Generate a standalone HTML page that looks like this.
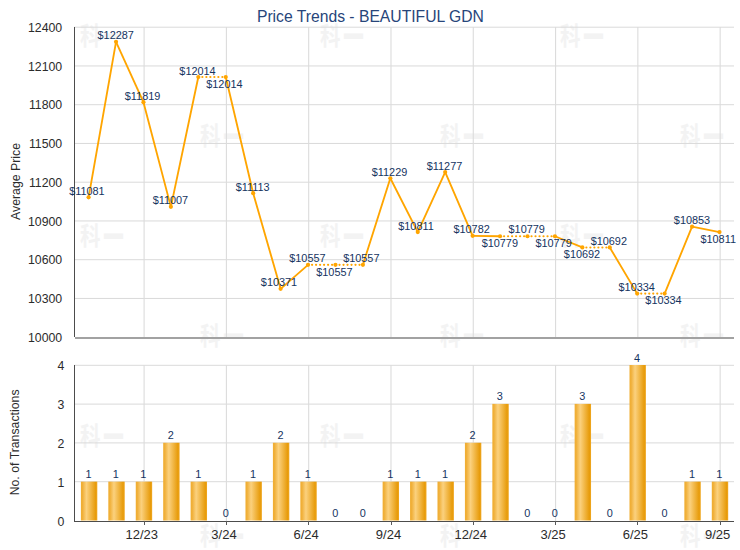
<!DOCTYPE html>
<html><head><meta charset="utf-8"><title>Price Trends - BEAUTIFUL GDN</title>
<style>
html,body{margin:0;padding:0;background:#fff;}
body{width:740px;height:550px;overflow:hidden;}
svg{display:block;font-family:"Liberation Sans","Noto Sans CJK SC",sans-serif;}
.ax{font-size:12.3px;fill:#2b2b2b;}
.xl{font-size:13px;fill:#2b2b2b;}
.dl{font-size:10.9px;fill:#15345f;}
.ttl{font-size:15.7px;fill:#27457a;}
.wm{font-size:20.5px;fill:#f3f3f3;font-weight:900;letter-spacing:1.5px;font-family:"Noto Sans CJK SC","WenQuanYi Zen Hei",sans-serif;}
</style></head><body>
<svg width="740" height="550" viewBox="0 0 740 550">
<defs>
<linearGradient id="bg" x1="0" y1="0" x2="1" y2="0">
<stop offset="0" stop-color="#f0ad30"/><stop offset="0.1" stop-color="#f0b03a"/><stop offset="0.34" stop-color="#fbd17e"/><stop offset="0.62" stop-color="#f1b644"/><stop offset="0.9" stop-color="#e79b0a"/><stop offset="1" stop-color="#f0a824"/>
</linearGradient>
</defs>
<rect width="740" height="550" fill="#fff"/>

<g class="wm">
<text font-weight="700" transform="translate(80,45.0) scale(1,1.22)">科</text><text transform="translate(103.2,49.6) scale(1,1.7)">一</text>
<text font-weight="700" transform="translate(320,45.0) scale(1,1.22)">科</text><text transform="translate(343.2,49.6) scale(1,1.7)">一</text>
<text font-weight="700" transform="translate(560,45.0) scale(1,1.22)">科</text><text transform="translate(583.2,49.6) scale(1,1.7)">一</text>
<text font-weight="700" transform="translate(200,145.0) scale(1,1.22)">科</text><text transform="translate(223.2,149.6) scale(1,1.7)">一</text>
<text font-weight="700" transform="translate(440,145.0) scale(1,1.22)">科</text><text transform="translate(463.2,149.6) scale(1,1.7)">一</text>
<text font-weight="700" transform="translate(680,145.0) scale(1,1.22)">科</text><text transform="translate(703.2,149.6) scale(1,1.7)">一</text>
<text font-weight="700" transform="translate(80,245.0) scale(1,1.22)">科</text><text transform="translate(103.2,249.6) scale(1,1.7)">一</text>
<text font-weight="700" transform="translate(320,245.0) scale(1,1.22)">科</text><text transform="translate(343.2,249.6) scale(1,1.7)">一</text>
<text font-weight="700" transform="translate(560,245.0) scale(1,1.22)">科</text><text transform="translate(583.2,249.6) scale(1,1.7)">一</text>
<text font-weight="700" transform="translate(200,345.0) scale(1,1.22)">科</text><text transform="translate(223.2,349.6) scale(1,1.7)">一</text>
<text font-weight="700" transform="translate(440,345.0) scale(1,1.22)">科</text><text transform="translate(463.2,349.6) scale(1,1.7)">一</text>
<text font-weight="700" transform="translate(680,345.0) scale(1,1.22)">科</text><text transform="translate(703.2,349.6) scale(1,1.7)">一</text>
<text font-weight="700" transform="translate(80,445.0) scale(1,1.22)">科</text><text transform="translate(103.2,449.6) scale(1,1.7)">一</text>
<text font-weight="700" transform="translate(320,445.0) scale(1,1.22)">科</text><text transform="translate(343.2,449.6) scale(1,1.7)">一</text>
<text font-weight="700" transform="translate(560,445.0) scale(1,1.22)">科</text><text transform="translate(583.2,449.6) scale(1,1.7)">一</text>
<text font-weight="700" transform="translate(200,545.0) scale(1,1.22)">科</text><text transform="translate(223.2,549.6) scale(1,1.7)">一</text>
<text font-weight="700" transform="translate(440,545.0) scale(1,1.22)">科</text><text transform="translate(463.2,549.6) scale(1,1.7)">一</text>
<text font-weight="700" transform="translate(680,545.0) scale(1,1.22)">科</text><text transform="translate(703.2,549.6) scale(1,1.7)">一</text>
</g>
<g fill="#dadada">
<rect x="74" y="26.70" width="660" height="1"/>
<rect x="74" y="65.45" width="660" height="1"/>
<rect x="74" y="104.20" width="660" height="1"/>
<rect x="74" y="142.95" width="660" height="1"/>
<rect x="74" y="181.70" width="660" height="1"/>
<rect x="74" y="220.45" width="660" height="1"/>
<rect x="74" y="259.20" width="660" height="1"/>
<rect x="74" y="297.95" width="660" height="1"/>
<rect x="74" y="364.80" width="660" height="1"/>
<rect x="74" y="403.60" width="660" height="1"/>
<rect x="74" y="442.40" width="660" height="1"/>
<rect x="74" y="481.20" width="660" height="1"/>
</g>
<g fill="#dcdcdc">
<rect x="143.56" y="27" width="1.1" height="310"/>
<rect x="143.56" y="365" width="1.1" height="156"/>
<rect x="225.85" y="27" width="1.1" height="310"/>
<rect x="225.85" y="365" width="1.1" height="156"/>
<rect x="308.14" y="27" width="1.1" height="310"/>
<rect x="308.14" y="365" width="1.1" height="156"/>
<rect x="390.43" y="27" width="1.1" height="310"/>
<rect x="390.43" y="365" width="1.1" height="156"/>
<rect x="472.72" y="27" width="1.1" height="310"/>
<rect x="472.72" y="365" width="1.1" height="156"/>
<rect x="555.01" y="27" width="1.1" height="310"/>
<rect x="555.01" y="365" width="1.1" height="156"/>
<rect x="637.30" y="27" width="1.1" height="310"/>
<rect x="637.30" y="365" width="1.1" height="156"/>
<rect x="719.59" y="27" width="1.1" height="310"/>
<rect x="719.59" y="365" width="1.1" height="156"/>
</g>
<g shape-rendering="crispEdges"><rect x="75" y="337" width="659" height="2" fill="#a2a2a2"/>
<rect x="74" y="27" width="1" height="310" fill="#4c4c4c"/>
<rect x="74" y="365" width="1" height="157" fill="#4c4c4c"/>
<rect x="74" y="521" width="660" height="1" fill="#4c4c4c"/>
<rect x="144" y="521" width="1" height="4" fill="#5a5a5a"/>
<rect x="226" y="521" width="1" height="4" fill="#5a5a5a"/>
<rect x="308" y="521" width="1" height="4" fill="#5a5a5a"/>
<rect x="391" y="521" width="1" height="4" fill="#5a5a5a"/>
<rect x="473" y="521" width="1" height="4" fill="#5a5a5a"/>
<rect x="555" y="521" width="1" height="4" fill="#5a5a5a"/>
<rect x="637" y="521" width="1" height="4" fill="#5a5a5a"/>
<rect x="720" y="521" width="1" height="4" fill="#5a5a5a"/>
</g>
<g class="ax" text-anchor="end">
<text x="62.2" y="31.9">12400</text>
<text x="62.2" y="70.7">12100</text>
<text x="62.2" y="109.4">11800</text>
<text x="62.2" y="148.2">11500</text>
<text x="62.2" y="186.9">11200</text>
<text x="62.2" y="225.7">10900</text>
<text x="62.2" y="264.4">10600</text>
<text x="62.2" y="303.1">10300</text>
<text x="62.2" y="341.9">10000</text>
<text x="64.4" y="370.0">4</text>
<text x="64.4" y="408.9">3</text>
<text x="64.4" y="447.8">2</text>
<text x="64.4" y="486.6">1</text>
<text x="64.4" y="525.5">0</text>
</g>
<g class="xl" text-anchor="middle">
<text x="141.7" y="538.9">12/23</text>
<text x="224.0" y="538.9">3/24</text>
<text x="306.2" y="538.9">6/24</text>
<text x="388.5" y="538.9">9/24</text>
<text x="470.8" y="538.9">12/24</text>
<text x="553.1" y="538.9">3/25</text>
<text x="635.4" y="538.9">6/25</text>
<text x="717.7" y="538.9">9/25</text>
</g>
<text class="ax" text-anchor="middle" transform="translate(19.5,181.5) rotate(-90)">Average Price</text>
<text class="ax" text-anchor="middle" transform="translate(19,442.4) rotate(-90)">No. of Transactions</text>
<text class="ttl" text-anchor="middle" x="370.4" y="22.2">Price Trends - BEAUTIFUL GDN</text>
<g>
<rect x="80.90" y="481.62" width="16.4" height="38.88" fill="url(#bg)"/>
<rect x="108.33" y="481.62" width="16.4" height="38.88" fill="url(#bg)"/>
<rect x="135.76" y="481.62" width="16.4" height="38.88" fill="url(#bg)"/>
<rect x="163.19" y="442.75" width="16.4" height="77.75" fill="url(#bg)"/>
<rect x="190.62" y="481.62" width="16.4" height="38.88" fill="url(#bg)"/>
<rect x="245.48" y="481.62" width="16.4" height="38.88" fill="url(#bg)"/>
<rect x="272.91" y="442.75" width="16.4" height="77.75" fill="url(#bg)"/>
<rect x="300.34" y="481.62" width="16.4" height="38.88" fill="url(#bg)"/>
<rect x="382.63" y="481.62" width="16.4" height="38.88" fill="url(#bg)"/>
<rect x="410.06" y="481.62" width="16.4" height="38.88" fill="url(#bg)"/>
<rect x="437.49" y="481.62" width="16.4" height="38.88" fill="url(#bg)"/>
<rect x="464.92" y="442.75" width="16.4" height="77.75" fill="url(#bg)"/>
<rect x="492.35" y="403.88" width="16.4" height="116.62" fill="url(#bg)"/>
<rect x="574.64" y="403.88" width="16.4" height="116.62" fill="url(#bg)"/>
<rect x="629.50" y="365.00" width="16.4" height="155.50" fill="url(#bg)"/>
<rect x="684.36" y="481.62" width="16.4" height="38.88" fill="url(#bg)"/>
<rect x="711.79" y="481.62" width="16.4" height="38.88" fill="url(#bg)"/>
</g>
<g class="dl" text-anchor="middle">
<text x="88.5" y="478.0">1</text>
<text x="115.9" y="478.0">1</text>
<text x="143.4" y="478.0">1</text>
<text x="170.8" y="439.1">2</text>
<text x="198.2" y="478.0">1</text>
<text x="225.7" y="516.9">0</text>
<text x="253.1" y="478.0">1</text>
<text x="280.5" y="439.1">2</text>
<text x="307.9" y="478.0">1</text>
<text x="335.4" y="516.9">0</text>
<text x="362.8" y="516.9">0</text>
<text x="390.2" y="478.0">1</text>
<text x="417.7" y="478.0">1</text>
<text x="445.1" y="478.0">1</text>
<text x="472.5" y="439.1">2</text>
<text x="499.9" y="400.3">3</text>
<text x="527.4" y="516.9">0</text>
<text x="554.8" y="516.9">0</text>
<text x="582.2" y="400.3">3</text>
<text x="609.7" y="516.9">0</text>
<text x="637.1" y="362.1">4</text>
<text x="664.5" y="516.9">0</text>
<text x="692.0" y="478.0">1</text>
<text x="719.4" y="478.0">1</text>
</g>
<g fill="none" stroke="#ffa500" stroke-width="1.85" stroke-linecap="round" stroke-linejoin="round">
<line x1="88.60" y1="197.32" x2="116.03" y2="41.87"/>
<line x1="116.03" y1="41.87" x2="143.46" y2="102.19"/>
<line x1="143.46" y1="102.19" x2="170.89" y2="206.86"/>
<line x1="170.89" y1="206.86" x2="198.32" y2="77.06"/>
<line x1="198.32" y1="77.06" x2="225.75" y2="77.06" stroke-dasharray="0.1 3.9" stroke-width="2.1"/>
<line x1="225.75" y1="77.06" x2="253.18" y2="193.19"/>
<line x1="253.18" y1="193.19" x2="280.61" y2="288.84"/>
<line x1="280.61" y1="288.84" x2="308.04" y2="264.86"/>
<line x1="308.04" y1="264.86" x2="335.47" y2="264.86" stroke-dasharray="0.1 3.9" stroke-width="2.1"/>
<line x1="335.47" y1="264.86" x2="362.90" y2="264.86" stroke-dasharray="0.1 3.9" stroke-width="2.1"/>
<line x1="362.90" y1="264.86" x2="390.33" y2="178.24"/>
<line x1="390.33" y1="178.24" x2="417.76" y2="232.12"/>
<line x1="417.76" y1="232.12" x2="445.19" y2="172.05"/>
<line x1="445.19" y1="172.05" x2="472.62" y2="235.86"/>
<line x1="472.62" y1="235.86" x2="500.05" y2="236.25"/>
<line x1="500.05" y1="236.25" x2="527.48" y2="236.25" stroke-dasharray="0.1 3.9" stroke-width="2.1"/>
<line x1="527.48" y1="236.25" x2="554.91" y2="236.25" stroke-dasharray="0.1 3.9" stroke-width="2.1"/>
<line x1="554.91" y1="236.25" x2="582.34" y2="247.46"/>
<line x1="582.34" y1="247.46" x2="609.77" y2="247.46" stroke-dasharray="0.1 3.9" stroke-width="2.1"/>
<line x1="609.77" y1="247.46" x2="637.20" y2="293.61"/>
<line x1="637.20" y1="293.61" x2="664.63" y2="293.61" stroke-dasharray="0.1 3.9" stroke-width="2.1"/>
<line x1="664.63" y1="293.61" x2="692.06" y2="226.71"/>
<line x1="692.06" y1="226.71" x2="719.49" y2="232.12"/>
</g>
<g fill="#ffa500">
<circle cx="88.60" cy="197.32" r="2.1"/>
<circle cx="116.03" cy="41.87" r="2.1"/>
<circle cx="143.46" cy="102.19" r="2.1"/>
<circle cx="170.89" cy="206.86" r="2.1"/>
<circle cx="198.32" cy="77.06" r="2.1"/>
<circle cx="225.75" cy="77.06" r="2.1"/>
<circle cx="253.18" cy="193.19" r="2.1"/>
<circle cx="280.61" cy="288.84" r="2.1"/>
<circle cx="308.04" cy="264.86" r="2.1"/>
<circle cx="335.47" cy="264.86" r="2.1"/>
<circle cx="362.90" cy="264.86" r="2.1"/>
<circle cx="390.33" cy="178.24" r="2.1"/>
<circle cx="417.76" cy="232.12" r="2.1"/>
<circle cx="445.19" cy="172.05" r="2.1"/>
<circle cx="472.62" cy="235.86" r="2.1"/>
<circle cx="500.05" cy="236.25" r="2.1"/>
<circle cx="527.48" cy="236.25" r="2.1"/>
<circle cx="554.91" cy="236.25" r="2.1"/>
<circle cx="582.34" cy="247.46" r="2.1"/>
<circle cx="609.77" cy="247.46" r="2.1"/>
<circle cx="637.20" cy="293.61" r="2.1"/>
<circle cx="664.63" cy="293.61" r="2.1"/>
<circle cx="692.06" cy="226.71" r="2.1"/>
<circle cx="719.49" cy="232.12" r="2.1"/>
</g>
<g class="dl" text-anchor="middle">
<text x="86.9" y="194.7">$11081</text>
<text x="115.7" y="38.8">$12287</text>
<text x="142.6" y="99.8">$11819</text>
<text x="170.4" y="204.0">$11007</text>
<text x="197.5" y="74.7">$12014</text>
<text x="224.4" y="88.3">$12014</text>
<text x="252.7" y="190.7">$11113</text>
<text x="279.0" y="285.5">$10371</text>
<text x="307.4" y="261.7">$10557</text>
<text x="334.4" y="275.7">$10557</text>
<text x="361.3" y="261.7">$10557</text>
<text x="389.5" y="175.6">$11229</text>
<text x="416.0" y="230.2">$10811</text>
<text x="444.5" y="170.0">$11277</text>
<text x="471.6" y="232.8">$10782</text>
<text x="499.8" y="246.8">$10779</text>
<text x="526.7" y="233.4">$10779</text>
<text x="553.6" y="246.8">$10779</text>
<text x="582.0" y="257.7">$10692</text>
<text x="608.8" y="245.2">$10692</text>
<text x="636.7" y="290.6">$10334</text>
<text x="663.5" y="303.7">$10334</text>
<text x="692.0" y="223.7">$10853</text>
<text x="718.2" y="243.4">$10811</text>
</g>
</svg>
</body></html>
